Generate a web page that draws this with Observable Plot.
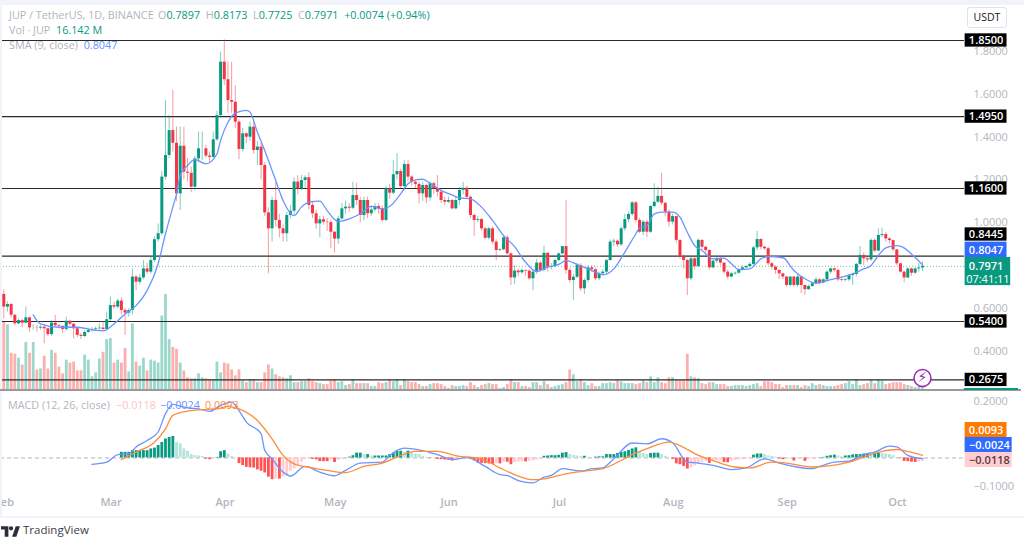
<!DOCTYPE html>
<html><head><meta charset="utf-8">
<script src="https://cdn.jsdelivr.net/npm/d3@7"></script>
<script src="https://cdn.jsdelivr.net/npm/@observablehq/plot@0.6"></script>
<style>
html,body{margin:0;padding:0;background:#fff;overflow:hidden}
#chart{position:relative;width:1024px;height:538px;font-family:"Open Sans",sans-serif;overflow:hidden}
.leg{position:absolute;white-space:nowrap;font-size:10.8px;line-height:14px;color:#b2b5be}
.up{color:#089981}
</style></head><body><div id="chart"></div>
<script>
// daily closes from 31 Jan (index 0) to 7 Oct (index 250); open = previous close
const firstOpen = 0.666;
const closes = [
.607,.619,.569,.529,.544,.532,.557,.510,.510,.509,
.513,.506,.479,.532,.520,.517,.503,.541,.527,.506,
.475,.470,.489,.498,.503,.506,.509,.503,.548,.614,
.607,.635,.591,.579,.591,.747,.723,.743,.785,.770,
.824,.921,.949,1.213,1.314,1.430,1.371,1.135,1.357,1.236,
1.231,1.166,1.298,1.345,1.345,1.311,1.305,1.387,1.500,1.749,
1.667,1.570,1.562,1.469,1.342,1.415,1.399,1.446,1.337,1.353,
1.267,1.046,.972,1.104,1.011,.972,.949,1.034,1.054,1.190,
1.158,1.197,1.210,1.081,1.042,.995,1.014,1.003,1.001,.956,
.924,1.018,1.065,1.073,1.068,1.127,1.104,1.034,1.104,1.042,
1.060,1.076,1.065,1.011,1.158,1.138,1.224,1.239,1.169,1.272,
1.213,1.189,1.179,1.135,1.174,1.116,1.182,1.158,1.143,1.104,
1.096,1.104,1.065,1.104,1.151,1.161,1.119,1.034,1.011,1.015,
.972,.928,.972,.910,.871,.874,.930,.855,.743,.775,
.767,.778,.775,.739,.770,.812,.778,.858,.793,.796,
.824,.855,.889,.778,.731,.746,.801,.692,.731,.790,
.781,.739,.762,.770,.824,.910,.914,.897,.972,1.015,
1.039,1.093,1.011,.956,1.003,.956,1.076,1.096,1.123,1.091,
1.050,1.003,1.029,.918,.840,.824,.739,.832,.796,.918,
.886,.871,.790,.821,.832,.812,.770,.747,.762,.765,
.781,.790,.796,.806,.883,.922,.886,.879,.809,.793,
.778,.762,.747,.708,.747,.708,.747,.708,.688,.703,
.716,.734,.719,.734,.770,.785,.778,.734,.731,.734,
.754,.759,.806,.848,.832,.827,.918,.868,.941,.945,
.925,.917,.874,.809,.770,.743,.785,.765,.785,.7897,.7971];
const highs = [
.687,.632,.625,.572,.55,.55,.607,.56,.525,.522,
.52,.52,.51,.545,.568,.528,.52,.56,.545,.53,
.51,.485,.495,.505,.512,.515,.53,.54,.583,.653,
.63,.645,.65,.60,.60,.785,.755,.76,.824,.81,
.84,.935,.995,1.24,1.57,1.50,1.617,1.446,1.446,1.446,
1.30,1.26,1.31,1.423,1.423,1.36,1.33,1.423,1.52,1.796,
1.853,1.749,1.749,1.64,1.48,1.44,1.42,1.47,1.47,1.38,
1.37,1.28,1.07,1.12,1.19,1.04,.99,1.05,1.08,1.21,
1.22,1.22,1.22,1.233,1.10,1.06,1.03,1.03,1.02,1.01,
.96,1.03,1.09,1.10,1.09,1.189,1.185,1.12,1.12,1.12,
1.08,1.09,1.09,1.08,1.17,1.18,1.29,1.322,1.25,1.29,
1.29,1.22,1.20,1.19,1.19,1.18,1.19,1.19,1.22,1.15,
1.12,1.12,1.11,1.12,1.165,1.189,1.17,1.125,1.04,1.03,
1.02,.98,.98,.98,.92,.88,.94,.94,.86,.80,
.785,.785,.78,.78,.78,.83,.82,.89,.86,.81,
.83,.86,.89,1.104,.79,.76,.81,.81,.74,.80,
.80,.79,.77,.78,.83,.92,.925,.92,.98,1.04,
1.05,1.10,1.10,1.02,1.01,1.01,1.08,1.182,1.166,1.231,
1.095,1.06,1.04,1.03,.92,.85,.83,.84,.84,.925,
.92,.89,.875,.825,.84,.84,.815,.78,.77,.77,
.785,.80,.80,.815,.89,.96,.925,.89,.885,.815,
.80,.78,.765,.75,.75,.75,.76,.75,.71,.71,
.72,.745,.74,.74,.775,.79,.79,.785,.74,.74,
.76,.765,.81,.89,.86,.84,.925,.925,.972,.975,
.955,.93,.92,.875,.81,.775,.79,.79,.79,.81,.8173];
const lows = [
.552,.585,.555,.52,.525,.51,.545,.49,.50,.49,
.50,.436,.47,.47,.51,.505,.485,.495,.515,.459,
.465,.455,.465,.485,.49,.495,.50,.495,.50,.54,
.595,.60,.57,.475,.56,.57,.684,.71,.735,.76,
.76,.815,.91,.94,1.20,1.30,1.33,1.10,1.057,1.20,
1.19,1.14,1.15,1.28,1.29,1.30,1.28,1.30,1.38,1.49,
1.64,1.51,1.51,1.44,1.294,1.33,1.37,1.38,1.32,1.267,
1.20,1.03,.762,.91,.98,.93,.91,.91,1.02,1.04,
1.13,1.15,1.16,1.06,1.02,.97,.93,.99,.96,.879,
.858,.90,1.01,1.04,1.05,1.06,1.08,1.00,1.01,1.02,
1.03,1.05,1.04,1.00,1.005,1.11,1.13,1.20,1.16,1.15,
1.19,1.17,1.16,1.088,1.10,1.09,1.10,1.13,1.12,1.09,
1.08,1.09,1.06,1.06,1.08,1.13,1.11,1.02,.936,1.00,
.96,.92,.92,.90,.824,.865,.87,.85,.708,.712,
.75,.76,.75,.73,.684,.76,.77,.77,.77,.78,
.79,.82,.85,.76,.72,.638,.74,.68,.666,.72,
.77,.73,.73,.755,.76,.82,.89,.885,.89,.96,
1.00,1.03,1.00,.95,.94,.93,.95,1.07,1.09,1.08,
1.03,.98,.99,.905,.83,.785,.661,.73,.78,.79,
.87,.86,.78,.785,.81,.80,.76,.735,.745,.755,
.76,.775,.785,.79,.80,.87,.875,.87,.80,.78,
.76,.735,.735,.70,.70,.70,.70,.67,.661,.685,
.70,.71,.71,.715,.725,.76,.77,.725,.725,.725,
.725,.708,.75,.80,.80,.815,.82,.86,.865,.93,
.91,.90,.865,.80,.765,.72,.74,.75,.76,.77,.7725];
// traded volume, in units of 5 million JUP
const volumes = [
70,67,38,37,33,26,49,38,49,21,
22,35,22,41,38,24,17,31,28,29,
20,20,36,31,14,18,32,39,52,53,
28,31,28,43,19,68,29,25,33,20,
31,30,28,76,98,52,44,42,28,20,
13,12,12,17,13,12,11,11,29,18,
28,27,21,15,21,10,8,11,11,8,
8,18,26,22,16,14,13,12,15,8,
8,9,9,12,9,8,7,6,6,10,
11,8,9,5,6,11,7,7,7,7,
4,4,8,7,8,11,9,11,5,11,
9,8,8,6,4,4,6,7,7,6,
4,2,5,4,4,5,4,8,5,3,
5,6,7,6,6,2,3,6,11,8,
8,4,4,3,8,8,5,9,6,3,
4,5,6,8,21,16,9,11,8,5,
7,4,4,7,7,8,7,10,9,7,
7,7,6,7,10,8,14,8,13,8,
7,13,13,10,10,10,37,14,13,12,
7,6,8,8,6,6,6,4,4,5,
5,5,4,5,6,7,4,9,9,8,
6,6,3,5,5,5,5,3,5,4,
7,5,6,5,4,4,4,5,6,7,
9,6,11,5,6,7,11,7,11,10,
6,7,8,8,8,6,5,4,3,5,3.2];
// SMA(9) and MACD lines, read as [day index, value]
const smaLine = [[8,.571],[10,.529],[15,.513],[20,.513],[25,.499],[27,.496],[30,.529],[33,.575],[36,.614],[39,.684],[42,.809],[44,.949],[46,1.073],[47,1.135],[48,1.221],[50,1.267],[52,1.295],[55,1.275],[58,1.321],[59,1.384],[61,1.469],[63,1.511],[66,1.524],[67,1.516],[69,1.423],[71,1.337],[74,1.197],[76,1.104],[79,1.034],[81,1.073],[83,1.096],[86,1.101],[88,1.057],[91,1.006],[94,1.018],[97,1.042],[100,1.077],[103,1.065],[105,1.076],[108,1.135],[110,1.182],[112,1.200],[114,1.203],[116,1.185],[119,1.151],[122,1.130],[124,1.116],[127,1.112],[130,1.073],[133,1.011],[136,.941],[139,.889],[142,.816],[145,.773],[148,.793],[151,.806],[153,.824],[156,.806],[159,.785],[161,.770],[163,.757],[166,.785],[169,.863],[172,.949],[173,.976],[175,.987],[177,1.042],[179,1.050],[182,1.050],[184,1.026],[186,.956],[188,.894],[190,.871],[193,.832],[196,.835],[198,.809],[200,.782],[203,.785],[206,.832],[208,.843],[212,.837],[215,.778],[218,.739],[221,.719],[224,.731],[228,.747],[231,.762],[234,.785],[236,.801],[238,.848],[240,.883],[243,.894],[245,.883],[247,.855],[250,.8047]];
const macdLine = [[24,-.023],[28,-.015],[31,.012],[34,.015],[36,.039],[39,.062],[42,.092],[44,.157],[46,.190],[49,.180],[53,.174],[56,.165],[59,.186],[62,.198],[64,.168],[66,.127],[70,.086],[71,.027],[73,-.003],[76,-.050],[78,-.064],[82,-.030],[86,-.050],[90,-.063],[93,-.044],[97,-.018],[103,-.015],[105,.009],[109,.035],[113,.029],[118,.012],[122,-.005],[126,.001],[131,-.030],[135,-.059],[137,-.062],[140,-.080],[144,-.088],[147,-.068],[149,-.062],[152,-.038],[157,-.046],[160,-.038],[163,-.035],[166,-.003],[171,.053],[175,.050],[179,.068],[182,.054],[186,-.015],[189,-.018],[193,-.026],[198,-.041],[202,-.035],[207,-.003],[211,-.018],[215,-.030],[220,-.038],[222,-.030],[226,-.015],[230,-.011],[234,.012],[237,.021],[241,.042],[243,.039],[246,.009],[248,.001],[250,-.0024]];
const signalLine = [[32,-.006],[36,.021],[41,.056],[44,.103],[46,.151],[50,.166],[54,.171],[58,.174],[61,.182],[64,.174],[69,.133],[73,.068],[76,.009],[79,-.021],[84,-.035],[88,-.044],[93,-.052],[98,-.030],[103,-.018],[108,.009],[112,.023],[118,.023],[124,.006],[128,.001],[132,-.015],[135,-.035],[140,-.064],[144,-.077],[147,-.074],[153,-.056],[157,-.048],[163,-.038],[168,-.009],[171,.012],[175,.033],[181,.056],[184,.044],[189,.009],[193,-.009],[199,-.032],[203,-.035],[209,-.015],[213,-.018],[220,-.032],[230,-.015],[234,.003],[239,.023],[243,.030],[246,.023],[250,.0093]];
// MACD histogram from day index 32 to 250
const histStart = 32;
const histogram = [
.020,.020,.020,.026,.026,.026,.026,.026,.032,.035,
.044,.055,.067,.073,.076,.055,.050,.032,.024,.012,
.008,.007,.005,-.004,-.006,-.002,.002,.022,.026,.014,
.005,.001,-.020,-.027,-.033,-.035,-.036,-.042,-.047,-.053,
-.068,-.077,-.075,-.075,-.068,-.063,-.047,-.039,-.027,-.015,
-.006,-.002,-.005,-.007,-.013,-.013,-.013,-.007,-.016,-.009,
-.005,0,.003,.008,.017,.017,.012,.012,.007,.007,
.007,.007,.007,.012,.017,.024,.024,.020,.024,.017,
.014,.012,.005,.002,-.002,-.001,-.005,-.006,-.007,-.008,
-.011,-.010,-.001,0,0,-.005,-.010,-.018,-.019,-.020,
-.021,-.023,-.021,-.021,-.015,-.015,-.024,-.017,-.015,-.014,
-.014,-.012,-.010,-.007,-.005,.006,.007,.008,.008,.009,
.017,.019,.012,.009,.007,.005,.006,.002,0,.003,
.004,.004,.012,.012,.012,.016,.020,.022,.027,.032,
.036,.020,.016,.012,.016,.017,.017,.012,.006,.001,
-.005,-.021,-.024,-.030,-.039,-.035,-.028,-.022,-.016,-.012,
-.019,-.010,-.009,-.008,-.016,-.017,-.010,-.009,-.007,-.006,
-.003,-.002,.010,.014,.014,.012,.007,.005,.003,-.003,
-.006,-.005,-.003,-.011,-.003,-.002,-.012,-.005,-.003,-.002,
.001,.002,.006,.008,.010,.007,.004,.007,.008,.011,
.012,.012,.014,.014,.012,.016,.018,.016,.014,.012,
.008,.002,-.002,-.012,-.013,-.015,-.016,-.013,-.0118];
const levels = [1.85,1.495,1.16,.8445,.54,.2675];
const levelLabels = ["1.8500","1.4950","1.1600","0.8445","0.5400","0.2675"];
const levelSlots = [1.85,1.495,1.16,.9455,.54,.2675]; // where each price tag sits on the axis
const priceTicks = [.4,.6,1,1.2,1.4,1.6,1.8];
const macdTicks = [-.1,.2];
const months = ["2024-02-01","2024-03-01","2024-04-01","2024-05-01","2024-06-01","2024-07-01","2024-08-01","2024-09-01","2024-10-01"];

const UP="#089981", DOWN="#f23645", GREY="#b2b5be", BLUE="#6a94ff", ORANGE="#ff8c3a";
const START=Date.UTC(2024,0,31);
const day=i=>new Date(START+i*864e5);
const xScale={axis:null,type:"utc",domain:[day(0),day(250)],range:[3.3,922]};
const fontFamily='"Open Sans",sans-serif';
const candles=closes.map((c,i)=>{
  const open=i?closes[i-1]:firstOpen;
  return {date:day(i),open,close:c,high:Math.max(highs[i],open,c),low:Math.min(lows[i],open,c),volume:volumes[i],up:c>=open};
});
const pts=a=>a.map(([i,v])=>({date:day(i),v}));
const tagX1=day(261.6), tagX2=day(273), tagXm=day(267.3);
const tag=(y1,y2,fill,x2=tagX2)=>Plot.rect([0],{x1:tagX1,x2,y1,y2,fill});
const tagText=(y,t,fill="#fff",w=400,x=tagXm)=>Plot.text([t],{x,y,text:d=>d,fill,fontSize:11,fontWeight:w,fontFamily});

const chart=document.getElementById("chart");
const place=(plot,top)=>{plot.style.position="absolute";plot.style.left="0";plot.style.top=top+"px";plot.style.background="transparent";chart.appendChild(plot);return plot;};

// volume panel, overlaid under the candles
place(Plot.plot({width:1024,height:390,marginTop:0,marginBottom:0,marginLeft:0,marginRight:60,
  x:xScale,y:{axis:null,domain:[0,100],range:[390,292]},
  marks:[
    Plot.ruleX(candles,{x:"date",y1:0,y2:"volume",strokeWidth:2.8,stroke:d=>d.up?"#9ad8cc":"#fbb0ae"})
  ]}),0);

// price panel
place(Plot.plot({width:1024,height:390,marginTop:0,marginBottom:0,marginLeft:0,marginRight:60,
  style:{fontFamily},
  x:xScale,y:{axis:null,domain:[(436.8-390)/214.5,436.8/214.5],range:[390,0]},
  marks:[
    Plot.axisY({anchor:"right",label:null,ticks:priceTicks,tickSize:0,tickPadding:9,tickFormat:d3.format(".4f"),fill:GREY,fontSize:11,fontFamily}),
    Plot.ruleY(levels,{stroke:"#2a2a2a",strokeWidth:1.1}),
    Plot.ruleY([.7971],{stroke:UP,strokeOpacity:.6,strokeDasharray:"1,2"}),
    Plot.ruleX(candles,{x:"date",y1:"low",y2:"high",strokeWidth:1,strokeOpacity:.5,stroke:d=>d.up?UP:DOWN}),
    Plot.ruleX(candles,{x:"date",y1:"open",y2:"close",strokeWidth:3,stroke:d=>d.up?UP:DOWN}),
    Plot.line(pts(smaLine),{x:"date",y:"v",stroke:BLUE,strokeWidth:1.3,curve:"monotone-x"}),
    Plot.dot([0],{x:day(250),y:.2765,r:8.5,fill:"#fff",stroke:"#9c27b0",strokeWidth:1.5}),
    Plot.text(["⚡"],{x:day(250),y:.2765,text:d=>d,fill:"#9c27b0",fontSize:14,fontFamily:"DejaVu Sans"}),
    ...levels.map((v,i)=>Plot.rect([0],{x1:tagX1,x2:tagX2,y1:levelSlots[i]-.031,y2:levelSlots[i]+.031,fill:"#000"})),
    ...levels.map((v,i)=>tagText(levelSlots[i],levelLabels[i],"#fff",600)),
    tag(.9098,.8382-.0006,"#2f6bff"),
    tagText(.8732,"0.8047","#fff",600),
    tag(.7072,.8382,UP,day(274)),
    tagText(.7986,"0.7971","#fff",600),
    tagText(.7375,"07:41:11","#fff",400,day(267.8))
  ]}),0);

// MACD panel
place(Plot.plot({width:1024,height:125,marginTop:0,marginBottom:30,marginLeft:0,marginRight:60,
  style:{fontFamily},
  x:xScale,y:{axis:null,domain:[-.1,.2],range:[94.7,10]},
  marks:[
    Plot.axisX({anchor:"bottom",label:null,ticks:months.map(m=>new Date(m)),tickFormat:d3.utcFormat("%b"),tickSize:0,tickPadding:12,dx:-3,fill:GREY,fontSize:11,fontWeight:600,fontFamily}),
    Plot.axisY({anchor:"right",label:null,ticks:macdTicks,tickSize:0,tickPadding:9,tickFormat:d3.format(".4f"),fill:GREY,fontSize:11,fontFamily}),
    Plot.ruleY([0],{stroke:GREY,strokeDasharray:"4,3"}),
    Plot.ruleX(histogram.map((v,i)=>({date:day(histStart+i),v,prev:i?histogram[i-1]:0})),{x:"date",y1:0,y2:"v",strokeWidth:2.8,
      stroke:d=>d.v>=0?(d.v>=d.prev?UP:"#b2e4db"):(d.v<=d.prev?"#ff5252":"#ffcdd2")}),
    Plot.line(pts(macdLine),{x:"date",y:"v",stroke:BLUE,strokeWidth:1.3,curve:"monotone-x"}),
    Plot.line(pts(signalLine),{x:"date",y:"v",stroke:ORANGE,strokeWidth:1.3,curve:"monotone-x"}),
    Plot.rect([0],{x1:tagX1,x2:tagX2,y1:.1256,y2:.0725,fill:"#ff7a00"}),
    tagText(.099,"0.0093","#fff",600),
    Plot.rect([0],{x1:tagX1,x2:day(274.4),y1:.0725,y2:.0194,fill:"#2f6bff"}),
    tagText(.046,"−0.0024","#fff",600,day(268.2)),
    Plot.rect([0],{x1:tagX1,x2:day(274.4),y1:.0194,y2:-.0337,fill:"#ffcdd2"}),
    tagText(-.0072,"−0.0118","#5a3a3a",600,day(268.2))
  ]}),391);

// chart furniture and legends
const html=(s,st)=>{const d=document.createElement("div");d.style.cssText=st||"";d.innerHTML=s;chart.appendChild(d);return d;};
const bar="position:absolute;background:";
html("",bar+"#f0f3fa;left:0;top:0;width:1024px;height:5px");
html("",bar+"#f0f3fa;left:0;top:0;width:1.5px;height:518px");
html("",bar+"#f0f3fa;left:0;top:516px;width:1024px;height:2px");
html("",bar+"#9a9a9a;left:0;top:389px;width:1021px;height:1.6px");
html("",bar+UP+";left:964px;top:387.5px;width:54px;height:2px");
html("USDT","position:absolute;left:967px;top:7px;width:38px;height:19px;border:1px solid #e0e3eb;border-radius:3px;text-align:center;font-size:10.5px;line-height:19px;color:#131722");
const leg=(s,l,t)=>{const d=html(s,`left:${l}px;top:${t}px`);d.className="leg";return d;};
leg("JUP / TetherUS, 1D, BINANCE",9,8);
leg(`O<span class="up">0.7897</span>&nbsp;&nbsp;H<span class="up">0.8173</span>&nbsp;&nbsp;L<span class="up">0.7725</span>&nbsp;&nbsp;C<span class="up">0.7971</span>&nbsp;&nbsp;<span class="up">+0.0074 (+0.94%)</span>`,158,8);
leg(`Vol · JUP&nbsp;&nbsp;<span class="up">16.142 M</span>`,9,23);
leg(`SMA (9, close)&nbsp;&nbsp;<span style="color:${BLUE}">0.8047</span>`,9,38);
leg(`MACD (12, 26, close)`,8,398);
leg(`<span style="color:#ffc4c4">−0.0118</span>`,116,398);
leg(`<span style="color:${BLUE}">−0.0024</span>`,160,398);
leg(`<span style="color:${ORANGE}">0.0093</span>`,205,398);
html(`<svg width="19" height="11" viewBox="0 0 36 20" style="position:absolute;left:1px;top:526px"><path fill="#2a2e39" d="M14 0H0v6h7v14h7zM29 20h-8L28 0h8zM19 8a4 4 0 1 0 0-8 4 4 0 0 0 0 8z"/></svg><span style="position:absolute;left:23px;top:523px;font-size:11.5px;color:#3a3e49;line-height:14px">TradingView</span>`,"");
</script></body></html>
